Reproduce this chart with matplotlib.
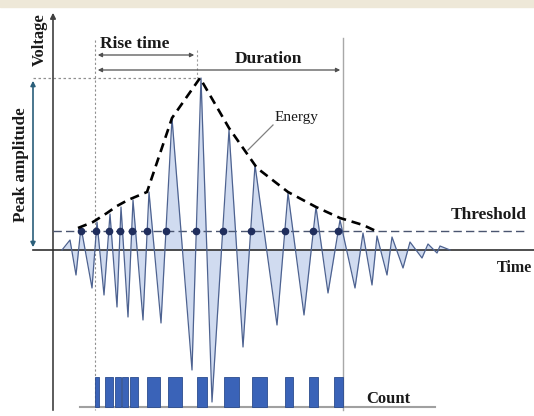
import numpy as np
import matplotlib
matplotlib.use("Agg")
import matplotlib.pyplot as plt
from matplotlib.patches import Rectangle

# ---------------- data (time in µs-like units, voltage in mV-like units) ----------------
wave_t = [9, 17, 23, 28, 39, 44, 51, 57, 64, 68, 75, 80, 90, 96, 108, 119, 139, 148, 159, 176,
          190, 202, 224, 235, 251, 263, 275, 287, 302, 310, 319, 324, 334, 339, 350, 357, 369,
          375, 384, 387, 397]
wave_v = [0, 10, -25, 23, -38, 28, -45, 36, -57, 43, -67, 50, -70, 58, -73, 132, -120, 172, -152, 120,
          -97, 85, -75, 57, -65, 43, -43, 30, -38, 17, -35, 14, -25, 13, -18, 8, -8,
          6, -3, 4, 0]

energy_t = [25, 40, 54, 64, 75, 94, 119, 147, 176, 204, 235, 263, 287, 310, 325]
energy_v = [22, 28, 37, 44, 50, 58, 132, 172, 122, 82, 58, 43, 32, 25, 18]

threshold = 19
peak_amp = 172
rise_start, rise_end, duration_end = 42, 144, 290

count_start = [42, 52, 62, 69, 77, 94, 115, 144, 171, 199, 232, 256, 281]
count_width = [4, 8, 6, 6, 8, 13, 14, 10, 15, 15, 8, 9, 9]

# ---------------- figure ----------------
fig = plt.figure(figsize=(5.34, 4.16), dpi=100)
ax = fig.add_axes([0, 0, 1, 1])
ax.set_xlim(-53, 481)
ax.set_ylim(-166, 250)
ax.axis("off")

serif = ["Liberation Serif", "DejaVu Serif"]

# top beige band
ax.add_patch(Rectangle((0, 0.982), 1, 0.018, transform=ax.transAxes, color="#eee8d8", zorder=0))

# axes of the schematic
ax.annotate("", xy=(0, 240), xytext=(0, -163),
            arrowprops=dict(arrowstyle="-|>", color="#404040", lw=1.2, mutation_scale=8))
ax.plot([-20, 481], [0, 0], color="#303030", lw=1.2, zorder=3)

# waveform
t = np.array(wave_t, float)
v = np.array(wave_v, float)
ax.fill_between(t, v, 0, color="#c8d5ee", alpha=0.85, lw=0, zorder=2)
ax.plot(t, v, color="#4d6290", lw=0.9, zorder=4)

# threshold
ax.plot([0, 472], [threshold, threshold], color="#4a5570", lw=1.0, dashes=(6, 3), zorder=3)

# threshold crossing dots on rising edges (within duration)
cx = []
for i in range(len(t) - 1):
    if v[i] < threshold <= v[i + 1] and t[i] < duration_end:
        cx.append(t[i] + (threshold - v[i]) * (t[i + 1] - t[i]) / (v[i + 1] - v[i]))
ax.plot(cx, [threshold] * len(cx), "o", color="#1f2d5c", ms=4.5, zorder=5)

# energy envelope
ax.plot(energy_t, energy_v, color="black", lw=1.9, dashes=(3.5, 2.2), zorder=6)

# peak amplitude arrow and dotted guide
ax.annotate("", xy=(-20, peak_amp), xytext=(-20, 0),
            arrowprops=dict(arrowstyle="<|-|>", color="#2b5f7a", lw=1.2, mutation_scale=7))
ax.plot([-20, 147], [peak_amp, peak_amp], color="#909090", lw=0.9, ls=(0, (2, 2)), zorder=1)

# rise time / duration markers
ax.plot([rise_start, rise_start], [210, -160], color="#909090", lw=0.8, ls=(0, (2, 2)), zorder=1)
ax.plot([rise_end, rise_end], [200, peak_amp], color="#a0a0a0", lw=0.8, ls=(0, (2, 2)), zorder=1)
ax.plot([duration_end, duration_end], [212, -160], color="#a8a8a8", lw=1.0, zorder=1)
ax.annotate("", xy=(rise_end, 195), xytext=(rise_start, 195),
            arrowprops=dict(arrowstyle="<|-|>", color="#505050", lw=0.9, mutation_scale=6))
ax.annotate("", xy=(duration_end, 180), xytext=(rise_start, 180),
            arrowprops=dict(arrowstyle="<|-|>", color="#505050", lw=0.9, mutation_scale=6))

# count pulses
ax.plot([27, 382], [-157, -157], color="#a0a0a0", lw=1.5, zorder=1)
ax.bar(count_start, 30, width=count_width, bottom=-157, align="edge",
       color="#3a63b8", edgecolor="#2b4c8e", lw=0.6, zorder=3)

# energy leader
ax.plot([220, 195], [125, 100], color="#808080", lw=0.9, zorder=5)

# labels
kw = dict(family=serif, fontweight="bold", color="#1a1a1a")
ax.text(82, 206, "Rise time", ha="center", va="center", fontsize=12.5, **kw)
ax.text(215, 191, "Duration", ha="center", va="center", fontsize=12.5, **kw)
ax.text(243, 132, "Energy", ha="center", va="center", fontsize=11, family=serif, color="#1a1a1a")
ax.text(436, 35, "Threshold", ha="center", va="center", fontsize=12.5, **kw)
ax.text(479, -18, "Time", ha="right", va="center", fontsize=11.5, **kw)
ax.text(335, -149, "Count", ha="center", va="center", fontsize=12, **kw)
ax.text(-13, 210, "Voltage", ha="center", va="center", rotation=90, fontsize=12, **kw)
ax.text(-32, 85, "Peak amplitude", ha="center", va="center", rotation=90, fontsize=12.3, **kw)

fig.savefig("out.png", dpi=100, facecolor="white")
